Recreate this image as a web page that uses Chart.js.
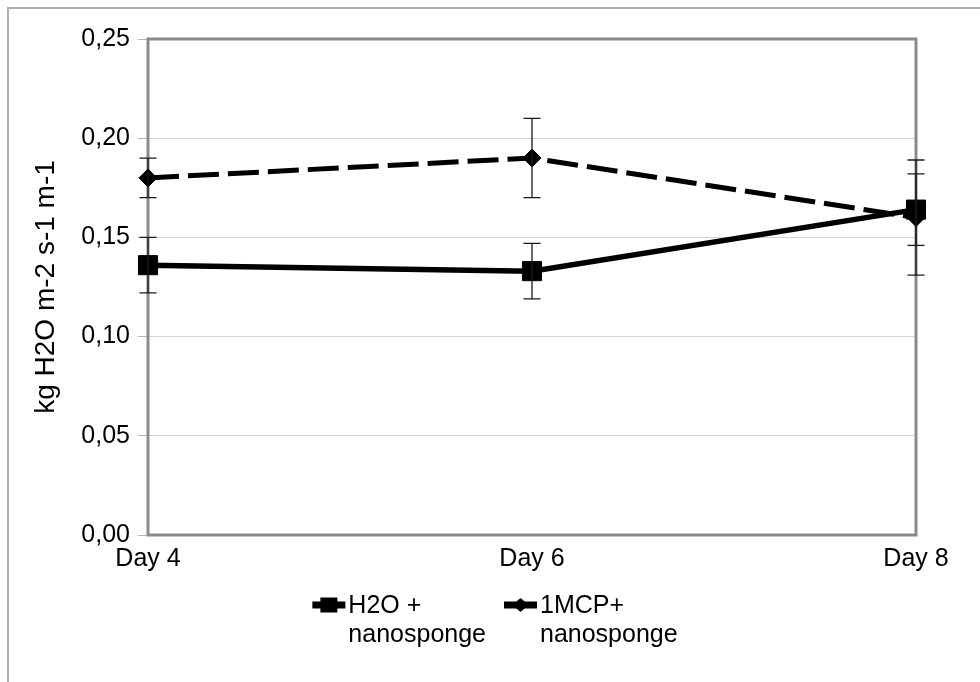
<!DOCTYPE html>
<html>
<head>
<meta charset="utf-8">
<script src="https://cdn.jsdelivr.net/npm/chart.js@4.4.1/dist/chart.umd.min.js"></script>
<style>
  html, body { margin: 0; padding: 0; background: #fff; }
  #wrap { position: relative; width: 980px; height: 682px; }
</style>
</head>
<body>
<div id="wrap"><canvas id="chart" width="980" height="682"></canvas></div>
<script>
// Categories, series and their error margins
const days = ['Day 4', 'Day 6', 'Day 8'];
const h2oLabel = ['H2O +', 'nanosponge'];
const h2oValues = [0.136, 0.133, 0.164];
const h2oErrors = [0.014, 0.014, 0.018];
const mcpLabel = ['1MCP+', 'nanosponge'];
const mcpValues = [0.180, 0.190, 0.160];
const mcpErrors = [0.010, 0.020, 0.029];
const yTicks = [0, 0.05, 0.10, 0.15, 0.20, 0.25];

const FAMILY = '"Liberation Sans", Arial, sans-serif';
const FONT = { family: FAMILY, size: 25 };
const TITLE_FONT = { family: FAMILY, size: 28 };

// white page with a thin grey frame on the top and left
const pageFrame = {
  id: 'pageFrame',
  beforeDraw(chart) {
    const { ctx, width, height } = chart;
    ctx.save();
    ctx.fillStyle = '#fff';
    ctx.fillRect(0, 0, width, height);
    ctx.strokeStyle = '#b0b0b0';
    ctx.lineWidth = 2;
    ctx.beginPath();
    ctx.moveTo(8, height);
    ctx.lineTo(8, 8);
    ctx.lineTo(width, 8);
    ctx.stroke();
    ctx.restore();
  }
};

// grey box round the plot area, under the lines
const plotFrame = {
  id: 'plotFrame',
  beforeDatasetsDraw(chart) {
    const { ctx, chartArea: a } = chart;
    ctx.save();
    ctx.strokeStyle = '#8a8a8a';
    ctx.lineWidth = 3;
    ctx.strokeRect(a.left, a.top, a.right - a.left, a.bottom - a.top);
    ctx.restore();
  }
};

// vertical error bars with caps
const errorBars = {
  id: 'errorBars',
  afterDatasetsDraw(chart) {
    const { ctx, scales: { x, y } } = chart;
    ctx.save();
    ctx.strokeStyle = '#1a1a1a';
    ctx.lineWidth = 1.3;
    chart.data.datasets.forEach((ds, di) => {
      if (!chart.isDatasetVisible(di)) return;
      ds.errors.forEach((err, i) => {
        const px = x.getPixelForValue(i);
        const top = y.getPixelForValue(ds.data[i] + err);
        const bottom = y.getPixelForValue(ds.data[i] - err);
        ctx.beginPath();
        ctx.moveTo(px, top);
        ctx.lineTo(px, bottom);
        ctx.moveTo(px - 8.5, top);
        ctx.lineTo(px + 8.5, top);
        ctx.moveTo(px - 8.5, bottom);
        ctx.lineTo(px + 8.5, bottom);
        ctx.stroke();
      });
    });
    ctx.restore();
  }
};

// legend: line sample with marker, two-line label
const lineLegend = {
  id: 'lineLegend',
  afterDraw(chart) {
    const { ctx } = chart;
    const symW = 33, gap = 3, itemGap = 18;
    const line1 = 613, line2 = 642, symY = 605;
    ctx.save();
    ctx.font = FONT.size + 'px ' + FONT.family;
    const items = chart.data.datasets.map(ds => {
      const w = Math.max(...ds.label.map(t => ctx.measureText(t).width));
      return { ds, w: symW + gap + w };
    });
    const total = items.reduce((s, it) => s + it.w, 0) + itemGap * (items.length - 1);
    let x = 495 - total / 2;
    items.forEach(({ ds, w }) => {
      ctx.strokeStyle = '#000';
      ctx.lineWidth = 7;
      ctx.setLineDash([]);
      ctx.beginPath();
      ctx.moveTo(x, symY);
      ctx.lineTo(x + symW, symY);
      ctx.stroke();
      const cx = x + symW / 2;
      ctx.fillStyle = '#000';
      ctx.beginPath();
      if (ds.pointStyle === 'rect') {
        ctx.rect(cx - 8.5, symY - 7.5, 17, 15);
      } else {
        ctx.moveTo(cx - 8, symY);
        ctx.lineTo(cx, symY - 7);
        ctx.lineTo(cx + 8, symY);
        ctx.lineTo(cx, symY + 7);
        ctx.closePath();
      }
      ctx.fill();
      ctx.textBaseline = 'alphabetic';
      ctx.textAlign = 'left';
      ctx.fillText(ds.label[0], x + symW + gap, line1);
      ctx.fillText(ds.label[1], x + symW + gap, line2);
      x += w + itemGap;
    });
    ctx.restore();
  }
};

new Chart(document.getElementById('chart'), {
  type: 'line',
  data: {
    labels: days,
    datasets: [
      {
        label: h2oLabel,
        data: h2oValues,
        errors: h2oErrors,
        borderColor: '#000',
        backgroundColor: '#000',
        borderWidth: 5.5,
        pointStyle: 'rect',
        pointRadius: 13.5,
        pointBorderWidth: 1,
        pointBackgroundColor: '#000',
        pointBorderColor: '#000',
        tension: 0,
        clip: false
      },
      {
        label: mcpLabel,
        data: mcpValues,
        errors: mcpErrors,
        borderColor: '#000',
        backgroundColor: '#000',
        borderWidth: 5,
        borderDash: [31, 9],
        pointStyle: 'rectRot',
        pointRadius: 9,
        pointBorderWidth: 1,
        pointBackgroundColor: '#000',
        pointBorderColor: '#000',
        tension: 0,
        clip: false
      }
    ]
  },
  options: {
    responsive: false,
    animation: false,
    layout: { padding: { left: 0, top: 39, right: 64, bottom: 107 } },
    plugins: {
      legend: { display: false },
      tooltip: { enabled: false }
    },
    scales: {
      x: {
        offset: false,
        grid: { display: false, drawTicks: false },
        border: { display: false },
        ticks: { color: '#000', font: FONT, padding: 9, maxRotation: 0 },
        afterFit(s) { s.height = 40; }
      },
      y: {
        min: 0,
        max: 0.25,
        afterBuildTicks(s) { s.ticks = yTicks.map(v => ({ value: v })); },
        grid: { color: '#d3d3d3', tickColor: '#b5b5b5', tickLength: 10, lineWidth: 1 },
        border: { display: false },
        ticks: {
          color: '#000',
          font: FONT,
          padding: 8,
          callback: v => v.toFixed(2).replace('.', ',')
        },
        title: {
          display: true,
          text: 'kg H2O m-2 s-1 m-1',
          color: '#000',
          font: TITLE_FONT,
          padding: { top: 29, bottom: 0 }
        },
        afterFit(s) { s.width = 148; }
      }
    }
  },
  plugins: [pageFrame, plotFrame, errorBars, lineLegend]
});
</script>
</body>
</html>
